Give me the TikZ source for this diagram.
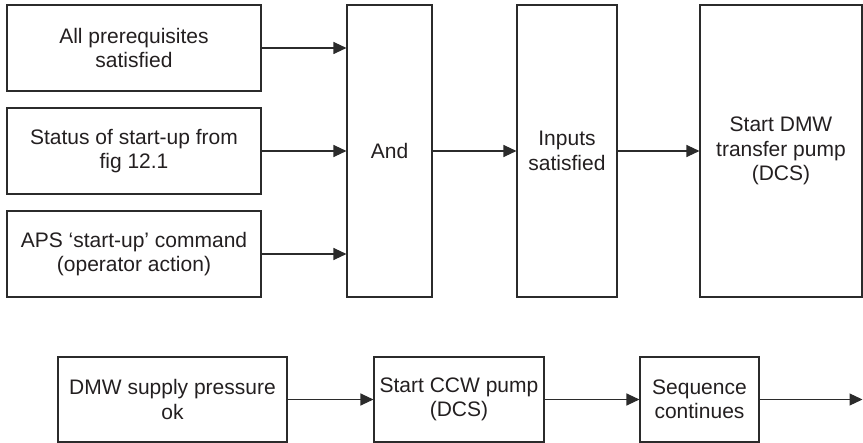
\documentclass[tikz,border=0pt]{standalone}
\usepackage{fontspec}
\setmainfont{Liberation Sans}
\usetikzlibrary{arrows.meta}
\definecolor{ln}{HTML}{2B2B2B}
\definecolor{tx}{HTML}{231F20}
\begin{document}
\begin{tikzpicture}[x=1pt,y=-1pt,
  blk/.style={draw=ln,line width=1.1pt,inner sep=0pt,align=center,text=tx,
    font=\fontsize{21}{24.5}\selectfont},
  arr/.style={draw=ln,line width=1.1pt,-{Triangle[length=13pt,width=12pt]}}]
\useasboundingbox (0,0) rectangle (863,443);
\node[blk,minimum width=254pt,minimum height=86pt] (p1) at (134,48) {All prerequisites\\satisfied};
\node[blk,minimum width=254pt,minimum height=86pt] (p2) at (134,151) {Status of start-up from\\fig 12.1};
\node[blk,minimum width=254pt,minimum height=86pt] (p3) at (134,254) {APS ‘start-up’ command\\(operator action)};
\node[blk,minimum width=85pt,minimum height=292pt] (and) at (389.5,151) {And};
\node[blk,minimum width=100pt,minimum height=292pt] (inp) at (567,151) {Inputs\\satisfied};
\node[blk,minimum width=162pt,minimum height=292pt] (dcs) at (781,151) {Start DMW\\transfer pump\\(DCS)};
\node[blk,minimum width=229pt,minimum height=85pt] (a) at (172.5,399.5) {DMW supply pressure\\ok};
\node[blk,minimum width=170pt,minimum height=85pt] (b) at (459,399.5) {Start CCW pump\\(DCS)};
\node[blk,minimum width=119pt,minimum height=85pt] (c) at (699.5,399.5) {Sequence\\continues};
\coordinate (e) at (862.5,399.5);
\draw[arr] (p1.east) -- (and.west |- p1.east);
\draw[arr] (p2.east) -- (and.west |- p2.east);
\draw[arr] (p3.east) -- (and.west |- p3.east);
\draw[arr] (and.east) -- (inp.west);
\draw[arr] (inp.east) -- (dcs.west);
\draw[arr] (a.east) -- (b.west);
\draw[arr] (b.east) -- (c.west);
\draw[arr] (c.east) -- (e);
\end{tikzpicture}
\end{document}
